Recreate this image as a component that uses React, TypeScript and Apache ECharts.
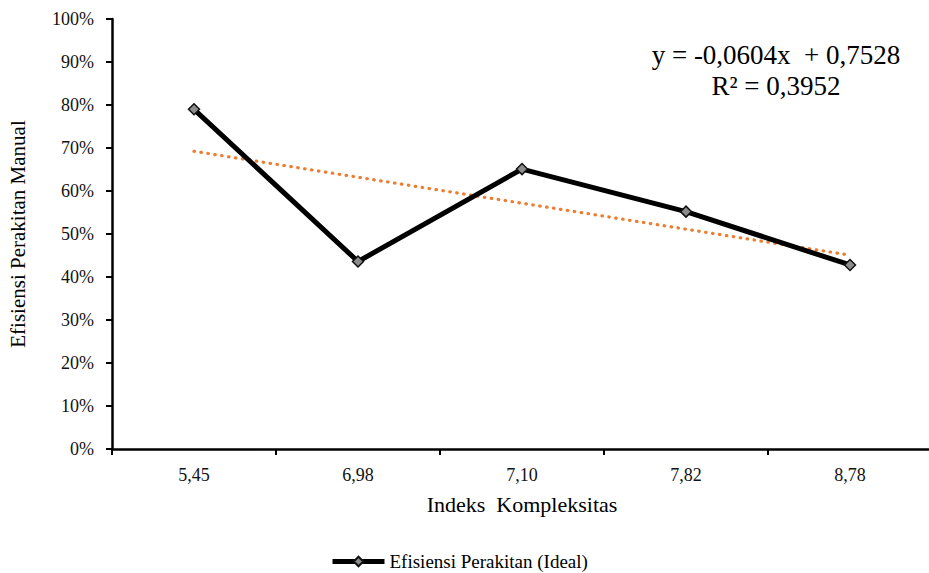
import React, { useEffect, useRef } from "react";
import * as echarts from "echarts";

const categories = ["5,45", "6,98", "7,10", "7,82", "8,78"];
const efisiensi = [0.79, 0.436, 0.651, 0.552, 0.428];
const trendSlope = -0.0604;
const trendIntercept = 0.7528;
const rSquared = "0,3952";
const yTicks = [0, 0.1, 0.2, 0.3, 0.4, 0.5, 0.6, 0.7, 0.8, 0.9, 1];

const FONT = "'Liberation Serif', 'Times New Roman', serif";

export default function App() {
  const ref = useRef<HTMLDivElement>(null);
  useEffect(() => {
    if (!ref.current) return;
    const chart = echarts.init(ref.current, undefined, { renderer: "svg" });
    const n = categories.length;
    const trend = categories.map((_, i) =>
      i === 0 || i === n - 1 ? trendIntercept + trendSlope * (i + 1) : null
    );
    chart.setOption({
      animation: false,
      backgroundColor: "#fff",
      textStyle: { fontFamily: FONT },
      grid: {
        left: 112,
        right: -3,
        top: 19,
        bottom: 124,
        containLabel: false,
        outerBoundsMode: "none",
      },
      legend: {
        data: [{ name: "Efisiensi Perakitan (Ideal)" }],
        left: 330,
        top: 552,
        padding: 0,
        itemWidth: 52,
        itemHeight: 12,
        itemGap: 2,
        lineStyle: { width: 5, color: "#000" },
        textStyle: { fontFamily: FONT, fontSize: 19, color: "#000" },
      },
      xAxis: {
        type: "category",
        data: categories,
        boundaryGap: true,
        name: "Indeks  Kompleksitas",
        nameLocation: "middle",
        nameGap: 44,
        nameTextStyle: { fontFamily: FONT, fontSize: 22, color: "#000" },
        axisLine: { lineStyle: { color: "#000", width: 2.5 } },
        axisTick: { show: true, length: 6, interval: 0, lineStyle: { color: "#000", width: 2 } },
        axisLabel: { fontFamily: FONT, fontSize: 18, color: "#111", margin: 17, interval: 0 },
      },
      yAxis: {
        type: "value",
        min: 0,
        max: 1,
        interval: 0.1,
        name: "Efisiensi Perakitan Manual",
        nameLocation: "middle",
        nameGap: 84,
        nameTextStyle: { fontFamily: FONT, fontSize: 21, color: "#000" },
        axisLine: { show: true, lineStyle: { color: "#000", width: 2.5 } },
        axisTick: { show: true, length: 6, lineStyle: { color: "#000", width: 2 } },
        splitLine: { show: false },
        axisLabel: {
          fontFamily: FONT,
          fontSize: 18,
          color: "#111",
          margin: 18,
          formatter: (v: number) => {
            const t = yTicks.find((k) => Math.abs(k - v) < 1e-6);
            return Math.round((t ?? v) * 100) + "%";
          },
        },
      },
      series: [
        {
          name: "Trend",
          type: "line",
          data: trend,
          connectNulls: true,
          symbol: "none",
          lineStyle: { color: "#ED7D31", width: 3.2, type: [0.5, 6.5], cap: "round" },
          z: 1,
        },
        {
          name: "Efisiensi Perakitan (Ideal)",
          type: "line",
          data: efisiensi,
          symbol: "diamond",
          symbolSize: 11,
          lineStyle: { color: "#000", width: 5 },
          itemStyle: { color: "#8c8c8c", borderColor: "#111", borderWidth: 1.5 },
          z: 2,
        },
      ],
      graphic: [
        {
          type: "text",
          x: 776,
          y: 55,
          style: {
            text: "y = -0,0604x  + 0,7528",
            fontFamily: FONT,
            fontSize: 27,
            fill: "#000",
            align: "center",
            verticalAlign: "middle",
          },
        },
        {
          type: "text",
          x: 776,
          y: 86,
          style: {
            text: "R² = " + rSquared,
            fontFamily: FONT,
            fontSize: 27,
            fill: "#000",
            align: "center",
            verticalAlign: "middle",
          },
        },
      ],
    });
    return () => chart.dispose();
  }, []);
  return (
    <div
      ref={ref}
      style={{ position: "absolute", left: 0, top: 0, width: 929, height: 573 }}
    />
  );
}
